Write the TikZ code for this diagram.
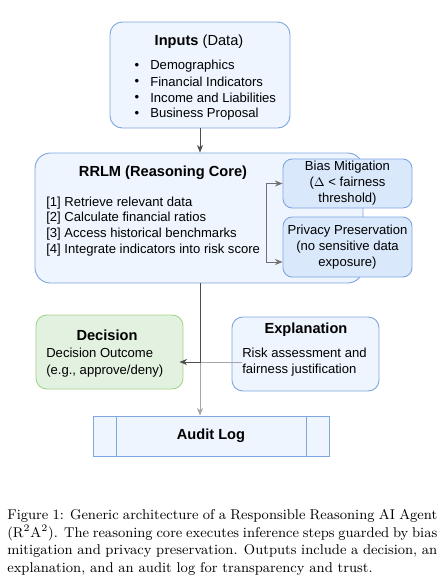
\documentclass[tikz,border=0pt]{standalone}
\usepackage{fontspec}
\setmainfont{Latin Modern Roman}
\newfontfamily\diagfont{Liberation Sans}
\usepackage{xcolor}
\usetikzlibrary{arrows.meta}

\definecolor{boxfill}{HTML}{EEF5FE}
\definecolor{boxline}{HTML}{7EA6E0}
\definecolor{guardfill}{HTML}{DAE8FC}
\definecolor{decfill}{HTML}{E2F1E0}
\definecolor{decline}{HTML}{A3D48A}
\definecolor{arrdark}{HTML}{4D4D4D}
\definecolor{arrlight}{HTML}{A6A6A6}

\newcommand{\pxu}{0.65pt}
\newcommand{\capline}[1]{\makebox[430\dimexpr\pxu\relax][s]{#1}}

\begin{document}
\begin{tikzpicture}[x=0.65pt, y=-0.65pt, font=\diagfont\fontsize{8.5}{10.4}\selectfont]
    \tikzstyle{inbox} = [draw=boxline, fill=boxfill, rounded corners=8pt, line width=0.6pt]
    \tikzstyle{guardbox} = [draw=boxline, fill=guardfill, rounded corners=6pt, line width=0.6pt,
        minimum width=129*\pxu, align=center, inner sep=0pt]
    \tikzstyle{decbox} = [draw=decline, fill=decfill, rounded corners=7pt, line width=0.6pt]
    \tikzstyle{logbox} = [draw=boxline, fill=boxfill, line width=0.6pt]
    \tikzstyle{title} = [font=\diagfont\bfseries\fontsize{9.5}{11}\selectfont, inner sep=0pt]
    \tikzstyle{txt} = [anchor=west, inner sep=0pt]
    \tikzstyle{arr} = [-{Stealth[length=5pt, width=4pt]}, line width=0.6pt, draw=arrdark]

    \useasboundingbox (0,0) rectangle (444,577);

    % Inputs
    \node[inbox, minimum width=180*\pxu, minimum height=106*\pxu] (inputs) at (200,75) {};
    \node[title] (intitle) at (199,42) {Inputs \mdseries(Data)};
    \foreach \t [count=\i] in {Demographics, Financial Indicators, Income and Liabilities, Business Proposal} {
        \node[inner sep=0pt] (bul\i) at (137, 50+16*\i) {\textbullet};
        \node[txt] (item\i) at (150, 50+16*\i) {\t};
    }

    % Reasoning core
    \node[inbox, rounded corners=10pt, minimum width=328*\pxu, minimum height=130*\pxu] (core) at (199,218) {};
    \node[title] (coretitle) at (163,173) {RRLM (Reasoning Core)};
    \foreach \t [count=\i] in {Retrieve relevant data, Calculate financial ratios,
        Access historical benchmarks, Integrate indicators into risk score} {
        \node[txt] (step\i) at (46, 187.3+15.6*\i) {[\i] \t};
    }

    % Guards
    \node[guardbox, minimum height=49*\pxu] (bias) at (347.5,183.5) {Bias Mitigation\\($\Delta$ < fairness\\threshold)};
    \node[guardbox, minimum height=60*\pxu] (privacy) at (347.5,247) {Privacy Preservation\\(no sensitive data\\exposure)};
    \coordinate (fork) at (266,222);
    \draw[arr, draw=arrdark!80] (fork) |- (bias.west);
    \draw[arr, draw=arrdark!80] (fork) |- ([yshift=-15*\pxu]privacy.west);

    % Outputs
    \node[decbox, minimum width=147*\pxu, minimum height=74*\pxu] (decision) at (109.5,352) {};
    \node[title] (dectitle) at (107,335) {Decision};
    \node[txt] (dec1) at (46,353) {Decision Outcome};
    \node[txt] (dec2) at (46,371) {(e.g., approve/deny)};

    \node[inbox, rounded corners=7pt, minimum width=147*\pxu, minimum height=74*\pxu] (explain) at (305.5,354) {};
    \node[title] (exptitle) at (306,330) {Explanation};
    \node[txt] (exp1) at (242,353) {Risk assessment and};
    \node[txt] (exp2) at (242,370) {fairness justification};

    \node[logbox, minimum width=236*\pxu, minimum height=40*\pxu] (audit) at (211,436) {};
    \draw[boxline, line width=0.6pt] ([xshift=24*\pxu]audit.north west) -- ([xshift=24*\pxu]audit.south west);
    \draw[boxline, line width=0.6pt] ([xshift=-23*\pxu]audit.north east) -- ([xshift=-23*\pxu]audit.south east);
    \node[title] (audittitle) at (211,436) {Audit Log};

    % Connectors
    \draw[arr] (inputs.south) -- (inputs.south |- core.north);
    \draw[arr, draw=arrlight] (exp1.west |- 0,362) -| ([xshift=-11*\pxu]audit.north);
    \draw[arr] ([xshift=1*\pxu]core.south) |- ([xshift=-4*\pxu]decision.east |- 0,362);

    % Caption
    \node[anchor=north west, inner sep=0pt, align=left,
        font=\rmfamily\fontsize{9.2}{11.5}\selectfont] (caption) at (7,509)
        {\capline{Figure 1: Generic architecture of a Responsible Reasoning AI Agent}\\
        \capline{(R\textsuperscript{2}A\textsuperscript{2}). The reasoning core executes inference steps guarded by bias}\\
        \capline{mitigation and privacy preservation. Outputs include a decision, an}\\
        explanation, and an audit log for transparency and trust.};
\end{tikzpicture}
\end{document}
